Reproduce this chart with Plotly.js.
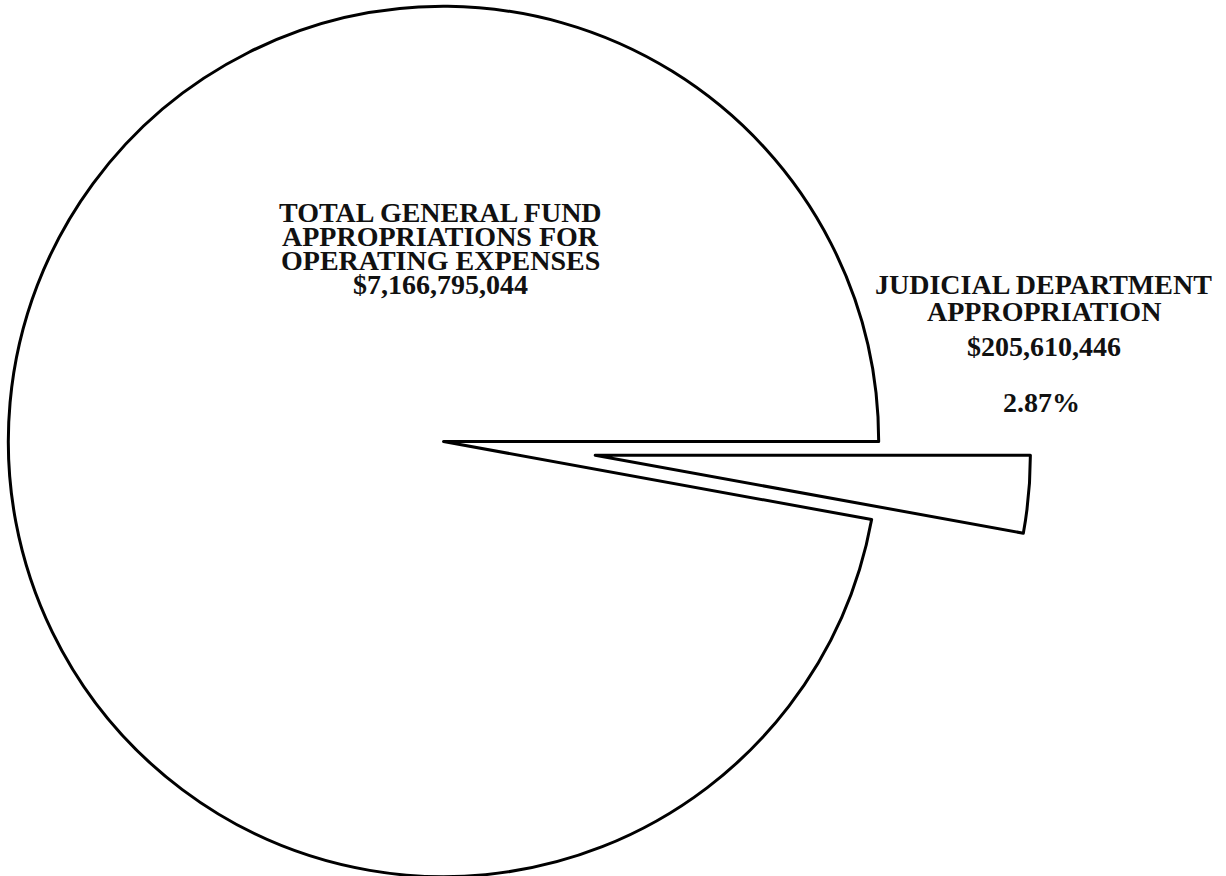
<!DOCTYPE html>
<html><head><meta charset="utf-8">
<script src="https://cdn.plot.ly/plotly-3.0.1.min.js"></script>
<style>
html,body{margin:0;padding:0;overflow:hidden;background:#fff;width:1226px;height:876px;}
#wrap{position:absolute;left:0;top:0;width:1226px;height:876px;overflow:hidden;background:#fff;}
#chart{position:absolute;}
</style></head><body><div id="wrap"><div id="chart"></div></div>
<script>
// ---- data ----
const categories = ['Judicial Department Appropriation', 'Other General Fund Appropriations'];
const values = [205610446, 6961184598];
const totalLabel = ['TOTAL GENERAL FUND', 'APPROPRIATIONS FOR', 'OPERATING EXPENSES', '$7,166,795,044'];
const judicialLabel = ['JUDICIAL DEPARTMENT', 'APPROPRIATION', '$205,610,446'];
const percentLabel = '2.87%';
const pulls = [0.35, 0];

// ---- geometry (layout only) ----
const LEFT = -144.5, TOP = -146.5, S = 1175, W = 1371, H = 1175;
const chart = document.getElementById('chart');
chart.style.left = LEFT + 'px';
chart.style.top = TOP + 'px';
chart.style.width = W + 'px';
chart.style.height = H + 'px';
const px = x => (x - LEFT) / W;
const py = y => 1 - (y - TOP) / H;

const font = {family: '"Liberation Serif", "Times New Roman", serif', size: 28, color: '#111'};
const annotations = [];
const mainY = [212, 236, 260, 284];
totalLabel.forEach((t, i) => annotations.push({
  text: '<b>' + t + '</b>', x: px(440), y: py(mainY[i]), xref: 'paper', yref: 'paper',
  xanchor: 'center', yanchor: 'middle', showarrow: false, font: font
}));
const judY = [284, 311, 346];
judicialLabel.forEach((t, i) => annotations.push({
  text: '<b>' + t + '</b>', x: px(1043), y: py(judY[i]), xref: 'paper', yref: 'paper',
  xanchor: 'center', yanchor: 'middle', showarrow: false, font: font
}));
annotations.push({
  text: '<b>' + percentLabel + '</b>', x: px(1041), y: py(402), xref: 'paper', yref: 'paper',
  xanchor: 'center', yanchor: 'middle', showarrow: false, font: font
});

Plotly.newPlot(chart, [{
  type: 'pie',
  labels: categories,
  values: values,
  sort: false,
  direction: 'clockwise',
  rotation: 90,
  pull: pulls,
  textinfo: 'none',
  hoverinfo: 'none',
  showlegend: false,
  marker: {colors: ['#ffffff', '#ffffff'], line: {color: '#000000', width: 3}},
  domain: {x: [0, S / W], y: [0, 1]}
}], {
  width: W, height: H,
  margin: {l: 0, r: 0, t: 0, b: 0, pad: 0},
  paper_bgcolor: '#ffffff', plot_bgcolor: '#ffffff',
  showlegend: false,
  annotations: annotations
}, {staticPlot: true, displayModeBar: false});
</script></body></html>
